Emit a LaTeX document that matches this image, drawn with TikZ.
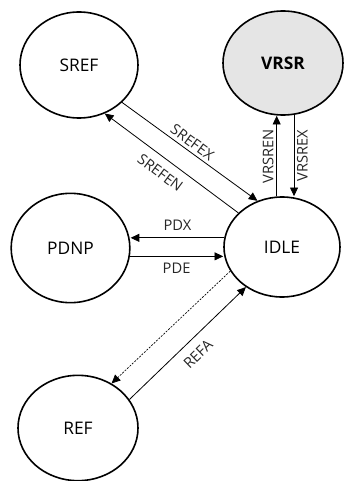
\documentclass[tikz,border=0pt]{standalone}
\usepackage{fontspec}
\setmainfont{Open Sans}
\usetikzlibrary{arrows.meta,shapes.geometric}
\tikzset{
  state/.style={draw=black,line width=1.2pt,ellipse,inner sep=0pt,font=\fontsize{13}{15}\selectfont},
  conn/.style={draw=black,line width=0.6pt,-{Triangle[length=6.5pt,width=6pt]}},
  lbl/.style={font=\fontsize{11}{13}\selectfont,text=black!85}
}
\begin{document}
\begin{tikzpicture}[x=0.75pt,y=-0.75pt]
\useasboundingbox (0,0) rectangle (343,481);
\node[state,minimum width=88.5pt,minimum height=79.5pt] (SREF) at (79,65) {SREF};
\node[state,fill=black!10,minimum width=90pt,minimum height=78pt,font=\fontsize{13}{15}\selectfont\bfseries] (VRSR) at (283,63) {VRSR};
\node[state,minimum width=87pt,minimum height=75pt] (IDLE) at (282,247) {IDLE};
\node[state,minimum width=89pt,minimum height=82pt] (PDNP) at (70.5,248) {PDNP};
\node[state,minimum width=90pt,minimum height=79pt] (REF) at (78,428) {REF};
% SREF <-> IDLE
\draw[conn] (SREF.-41.5) -- node[lbl,sloped,pos=0.48,anchor=south,inner sep=2.5pt] (lsrefex) {SREFEX} (IDLE.118);
\draw[conn] (IDLE.142) -- node[lbl,sloped,pos=0.52,anchor=north,inner sep=6.5pt] (lsrefen) {SREFEN} (SREF.-62);
% VRSR <-> IDLE
\draw[conn] (IDLE.96) -- node[lbl,sloped,pos=0.5,anchor=south,inner sep=2pt] (lvrsren) {VRSREN} (IDLE.96 |- VRSR.south);
\draw[conn] (VRSR.-78) -- node[lbl,sloped,pos=0.5,anchor=north,inner sep=2pt,rotate=180] (lvrsrex) {VRSREX} (VRSR.-78 |- IDLE.north);
% PDNP <-> IDLE
\draw[conn] (IDLE.171) -- node[lbl,above,inner sep=5pt] (lpdx) {PDX} (IDLE.171 -| PDNP.east);
\draw[conn] (PDNP.-8) -- node[lbl,below,inner sep=5pt] (lpde) {PDE} (PDNP.-8 -| IDLE.west);
% REF <-> IDLE
\draw[conn,dash pattern=on 1.5pt off 1pt,line width=0.5pt] (IDLE.205.7) -- (REF.53.3);
\draw[conn] (REF.29.4) -- node[lbl,sloped,pos=0.5,anchor=north,inner sep=7pt] (lrefa) {REFA} (IDLE.228.8);
\end{tikzpicture}
\end{document}
